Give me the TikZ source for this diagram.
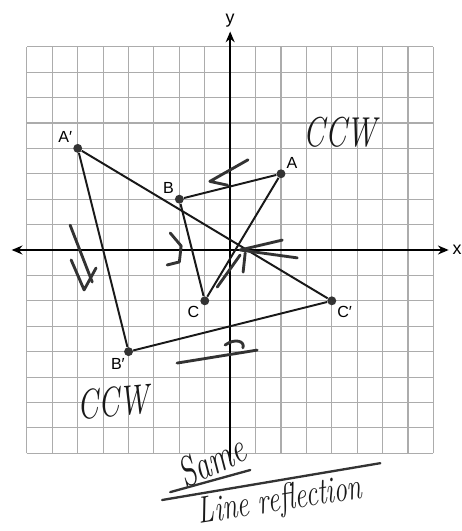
\documentclass[tikz,border=0pt]{standalone}
\usepackage{fontspec}
\setsansfont{Liberation Sans}
\usepackage{tikz}
\usetikzlibrary{positioning, calc, arrows.meta}

\begin{document}
\begin{tikzpicture}[
  x=0.5cm, y=0.5cm,
  font=\sffamily\small,
  gridline/.style={draw=gray!65, line width=0.6pt},
  axis/.style={draw=black, line width=1.1pt},
  tri/.style={draw=black!90, line width=1.1pt},
  pt/.style={circle, fill=black!80, inner sep=0pt, minimum size=5pt},
  lbl/.style={font=\sffamily\small, inner sep=1pt},
  hand/.style={draw=black!80, line width=1.6pt, line cap=round, line join=round},
  handtext/.style={font=\rmfamily\itshape, text=black!90, inner sep=0pt}
]
\useasboundingbox (-9.06,-11.06) rectangle (9.09,9.84);

% --- Grid and axes ---
\draw[gridline, step=0.5cm] (-8,-8) grid (8,8);
\coordinate (xl) at (-8.6,0);
\coordinate (xr) at (8.6,0);
\coordinate (yb) at (0,-8.3);
\coordinate (yt) at (0,8.6);
\draw[axis, {Stealth[length=6pt,width=5pt]}-{Stealth[length=6pt,width=5pt]}] (xl) -- (xr);
\draw[axis, -{Stealth[length=6pt,width=5pt]}] (yb) -- (yt);
\node[lbl, font=\sffamily\normalsize, right=1pt of xr] (xlab) {x};
\node[lbl, font=\sffamily\normalsize, above=1pt of yt] (ylab) {y};

% --- Triangle ABC ---
\node[pt, label={[lbl]45:A}] (A) at (2,3) {};
\node[pt, label={[lbl]135:B}] (B) at (-2,2) {};
\node[pt, label={[lbl]225:C}] (C) at (-1,-2) {};
\draw[tri] (A) -- (B) -- (C) -- (A);

% --- Image A'B'C' ---
\node[pt, label={[lbl]135:A′}] (Ap) at (-6,4) {};
\node[pt, label={[lbl]250:B′}] (Bp) at (-4,-4) {};
\node[pt, label={[lbl]-45:C′}] (Cp) at (4,-2) {};
\draw[tri] (Ap) -- (Bp) -- (Cp) -- (Ap);

% --- Handwritten marks ---
\draw[hand] (0.7,3.55) -- (-0.8,2.7) -- (-0.1,2.55);
\draw[hand] (-2.36,0.67) -- (-1.93,0.16) -- (-2.0,-0.47) -- (-2.48,-0.59);
\draw[hand] (2.05,0.39) -- (0.39,0) -- (2.64,-0.31);
\draw[hand] (0.59,-0.12) -- (0.51,-0.87);
\draw[hand] (0.39,-0.2) -- (-0.51,-1.46);
\draw[hand] (-6.3,0.98) -- (-5.43,-1.26);
\draw[hand] (-6.26,-0.39) -- (-5.75,-1.57) -- (-5.28,-0.71);
\draw[hand] (-2.09,-4.45) -- (1.06,-3.94);
\draw[hand] (-0.2,-3.74) .. controls (0.2,-3.45) and (0.6,-3.6) .. (0.5,-3.85);

\node[handtext, font=\rmfamily\itshape\fontsize{18}{18}\selectfont] (ccwtop) at (4.33,4.65) {\scalebox{0.95}[1.3]{CCW}};
\node[handtext, font=\rmfamily\itshape\fontsize{18}{18}\selectfont, rotate=5] (ccwbot) at (-4.6,-5.98) {\scalebox{0.95}[1.3]{CCW}};
\node[handtext, font=\rmfamily\itshape\fontsize{18}{18}\selectfont, rotate=25] (same) at (-0.75,-8.3) {\scalebox{0.95}[1.3]{Same}};
\node[handtext, font=\rmfamily\itshape\fontsize{15}{15}\selectfont, rotate=9] (refl) at (1.97,-9.9) {\scalebox{1}[1.4]{Line reflection}};
\draw[hand, line width=1.3pt] (-2.36,-9.53) -- (0.79,-8.66);
\draw[hand, line width=1.3pt] (-2.68,-9.84) -- (5.91,-8.39);

\end{tikzpicture}
\end{document}
